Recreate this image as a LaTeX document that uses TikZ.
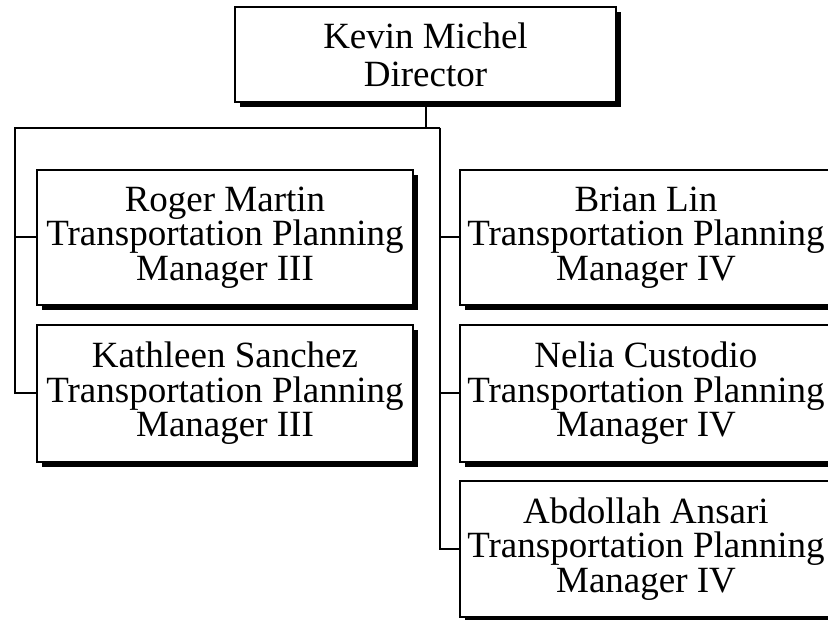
\documentclass[tikz,border=0pt]{standalone}
\usepackage{fontspec}
\setmainfont{Liberation Serif}
\usetikzlibrary{shadows}
\begin{document}
\begin{tikzpicture}[x=1pt,y=-1pt,
  orgbox/.style={draw, line width=2pt, fill=white, align=center, inner sep=0pt,
    font=\fontsize{37}{34.5}\selectfont,
    drop shadow={shadow xshift=5pt, shadow yshift=-5pt, fill=black, opacity=1}},
  link/.style={line width=2pt}]
\useasboundingbox (0,0) rectangle (828,620);
\fill[white] (0,0) rectangle (828,620);
\node[orgbox, minimum width=381pt, minimum height=95pt, font=\fontsize{37}{38}\selectfont] (top) at (425.5,54.5) {Kevin Michel\\Director};
\node[orgbox, minimum width=376pt, minimum height=135pt] (roger) at (225,237.5) {Roger Martin\\Transportation Planning\\Manager III};
\node[orgbox, minimum width=376pt, minimum height=137pt] (kath) at (225,393.5) {Kathleen Sanchez\\Transportation Planning\\Manager III};
\node[orgbox, minimum width=372pt, minimum height=135pt] (brian) at (646,237.5) {Brian Lin\\Transportation Planning\\Manager IV};
\node[orgbox, minimum width=372pt, minimum height=137pt] (nelia) at (646,393.5) {Nelia Custodio\\Transportation Planning\\Manager IV};
\node[orgbox, minimum width=372pt, minimum height=136pt] (abd) at (646,549) {Abdollah Ansari\\Transportation Planning\\Manager IV};
\coordinate (lc) at (15,128);
\coordinate (rc) at (440,128);
\draw[link] (top.south) -- (top.south |- lc);
\draw[link] (rc) -- (lc) |- (kath.west);
\draw[link] (lc) |- (roger.west);
\draw[link] (rc) |- (abd.west);
\draw[link] (rc) |- (brian.west);
\draw[link] (rc) |- (nelia.west);
\end{tikzpicture}
\end{document}
